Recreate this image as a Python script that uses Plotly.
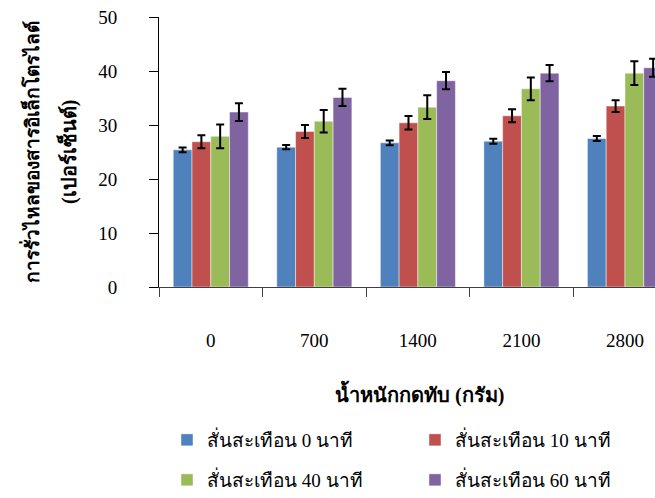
import plotly.graph_objects as go

categories = ["0", "700", "1400", "2100", "2800"]
series_names = ["สั่นสะเทือน 0 นาที", "สั่นสะเทือน 10 นาที", "สั่นสะเทือน 40 นาที", "สั่นสะเทือน 60 นาที"]
vib0 = [25.4, 25.9, 26.7, 27.0, 27.5]
vib10 = [26.9, 28.8, 30.4, 31.7, 33.5]
vib40 = [27.9, 30.7, 33.3, 36.7, 39.6]
vib60 = [32.4, 35.1, 38.2, 39.6, 40.6]
err0 = [0.45, 0.4, 0.45, 0.45, 0.45]
err10 = [1.2, 1.2, 1.25, 1.2, 1.1]
err40 = [2.2, 2.1, 2.2, 2.1, 2.2]
err60 = [1.65, 1.6, 1.6, 1.5, 1.65]
colors = ["#4F81BD", "#C0504D", "#9BBB59", "#8064A2"]
legend_ids = ["legend", "legend", "legend2", "legend2"]

values = [vib0, vib10, vib40, vib60]
errors = [err0, err10, err40, err60]

serif = "Liberation Serif, Times New Roman, serif"

fig = go.Figure()
for name, v, e, c, lg in zip(series_names, values, errors, colors, legend_ids):
    fig.add_trace(go.Bar(
        x=categories, y=v, name=name, legend=lg,
        marker=dict(color=c, line=dict(color="rgba(255,255,255,0.45)", width=1)),
        error_y=dict(type="data", array=e, visible=True, color="black", thickness=2, width=4),
    ))

legend_common = dict(
    orientation="h", xref="container", yref="container",
    xanchor="left", yanchor="middle",
    entrywidth=203, entrywidthmode="pixels",
    font=dict(family=serif, size=19, color="black"),
    bgcolor="rgba(0,0,0,0)",
)

fig.update_layout(
    width=655, height=498,
    margin=dict(l=159, r=0, t=17, b=211, autoexpand=False),
    paper_bgcolor="white", plot_bgcolor="white",
    barmode="group", bargap=0.275, bargroupgap=0,
    font=dict(family=serif, size=16, color="black"),
    showlegend=True,
    legend=dict(x=167 / 655, y=1 - 440 / 498, **legend_common),
    legend2=dict(x=167 / 655, y=1 - 480 / 498, **legend_common),
)
fig.update_xaxes(
    type="category", range=[-0.5, 4.29],
    showline=True, linecolor="#404040", linewidth=1,
    ticks="outside", tickson="boundaries", ticklen=9, tickcolor="#404040",
    ticklabelstandoff=36,
    tickfont=dict(family=serif, size=19),
    showgrid=False, zeroline=False,
)
fig.update_yaxes(
    range=[0, 50], dtick=10,
    showline=True, linecolor="black", linewidth=1,
    ticks="outside", ticklen=9, tickcolor="black",
    ticklabelstandoff=28,
    tickfont=dict(family=serif, size=19),
    showgrid=False, zeroline=False,
)
fig.add_annotation(
    text="<b>การรั่วไหลของสารอิเล็กโตรไลต์</b>",
    xref="paper", yref="paper", x=(31 - 159) / 496, y=0.5, xanchor="center", yanchor="middle",
    textangle=-90, showarrow=False, font=dict(family=serif, size=19, color="black"),
)
fig.add_annotation(
    text="<b>(เปอร์เซ็นต์)</b>",
    xref="paper", yref="paper", x=(68 - 159) / 496, y=0.5, xanchor="center", yanchor="middle",
    textangle=-90, showarrow=False, font=dict(family=serif, size=20, color="black"),
)
fig.add_annotation(
    text="<b>น้ำหนักกดทับ (กรัม)</b>",
    xref="paper", yref="paper", x=(419 - 159) / 496, y=(287 - 393) / 270,
    xanchor="center", yanchor="middle",
    showarrow=False, font=dict(family=serif, size=20, color="black"),
)

fig.write_html("out.html")
